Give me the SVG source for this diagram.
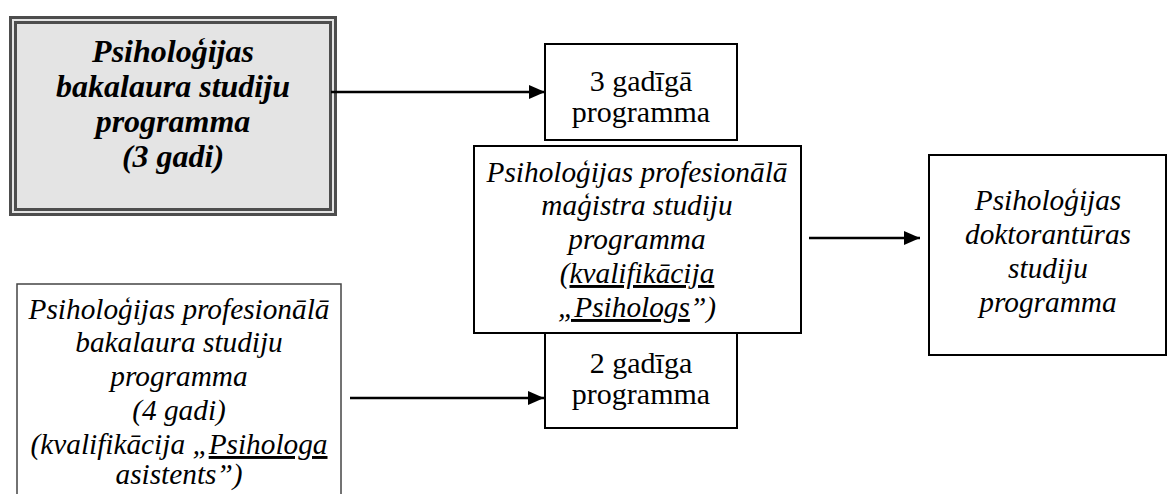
<svg xmlns="http://www.w3.org/2000/svg" width="1168" height="494" viewBox="0 0 1168 494">
<style>
text{font-family:"Liberation Serif",Tinos,"Times New Roman",Times,"DejaVu Serif",serif;text-anchor:middle;fill:#000}
.it{font-style:italic;font-size:29.3px}
.bi{font-style:italic;font-weight:bold;font-size:32px}
.up{font-size:30px}
.u{text-decoration:underline}
.box{fill:#fff;stroke:#000;stroke-width:2}
.conn{stroke:#000;stroke-width:2.5;fill:none}
</style>
<defs>
<marker id="ah" markerWidth="16" markerHeight="14" refX="16" refY="7" orient="auto" markerUnits="userSpaceOnUse">
<path d="M0,0 L16,7 L0,14 Z" fill="#000"/>
</marker>
</defs>
<g id="node-bakalaurs">
<rect x="10.5" y="17.5" width="325" height="197" fill="#e4e4e4" stroke="#4d4d4d" stroke-width="3"/>
<rect x="15.5" y="22.5" width="315" height="187" fill="#e4e4e4" stroke="#4d4d4d" stroke-width="3"/>
<text class="bi"><tspan x="173" y="62">Psiholoģijas</tspan><tspan x="173" y="97">bakalaura studiju</tspan><tspan x="173" y="132">programma</tspan><tspan x="173" y="167">(3 gadi)</tspan></text>
</g>
<g id="node-3gadi">
<rect class="box" x="545" y="44" width="192" height="96"/>
<text class="up"><tspan x="641" y="91">3 gadīgā</tspan><tspan x="641" y="122">programma</tspan></text>
</g>
<g id="node-magistrs">
<rect class="box" x="474" y="146" width="327" height="187"/>
<text class="it"><tspan x="637" y="182">Psiholoģijas profesionālā</tspan><tspan x="637" y="215">maģistra studiju</tspan><tspan x="637" y="249">programma</tspan><tspan x="637" y="283">(<tspan class="u">kvalifikācija</tspan></tspan><tspan x="637" y="317"><tspan class="u">„Psihologs</tspan>”)</tspan></text>
</g>
<g id="node-2gadi">
<rect class="box" x="545" y="333" width="192" height="95"/>
<text class="up"><tspan x="641" y="373">2 gadīga</tspan><tspan x="641" y="404">programma</tspan></text>
</g>
<g id="node-doktorantura">
<rect class="box" x="929" y="155" width="237" height="200"/>
<text class="it"><tspan x="1048" y="210">Psiholoģijas</tspan><tspan x="1048" y="244">doktorantūras</tspan><tspan x="1048" y="278">studiju</tspan><tspan x="1048" y="312">programma</tspan></text>
</g>
<g id="node-profbakalaurs">
<rect x="17" y="284" width="324" height="230" fill="#fff" stroke="#444" stroke-width="1.5"/>
<text class="it"><tspan x="179" y="319">Psiholoģijas profesionālā</tspan><tspan x="179" y="352">bakalaura studiju</tspan><tspan x="179" y="386">programma</tspan><tspan x="179" y="420">(4 gadi)</tspan><tspan x="179" y="454">(kvalifikācija „<tspan class="u">Psihologa</tspan></tspan><tspan x="179" y="484">asistents”)</tspan></text>
</g>
<g id="connectors">
<line class="conn" x1="331" y1="92" x2="545" y2="92" marker-end="url(#ah)"/>
<line class="conn" x1="350" y1="398" x2="544" y2="398" marker-end="url(#ah)"/>
<line class="conn" x1="809" y1="238" x2="920" y2="238" marker-end="url(#ah)"/>
</g>
</svg>
